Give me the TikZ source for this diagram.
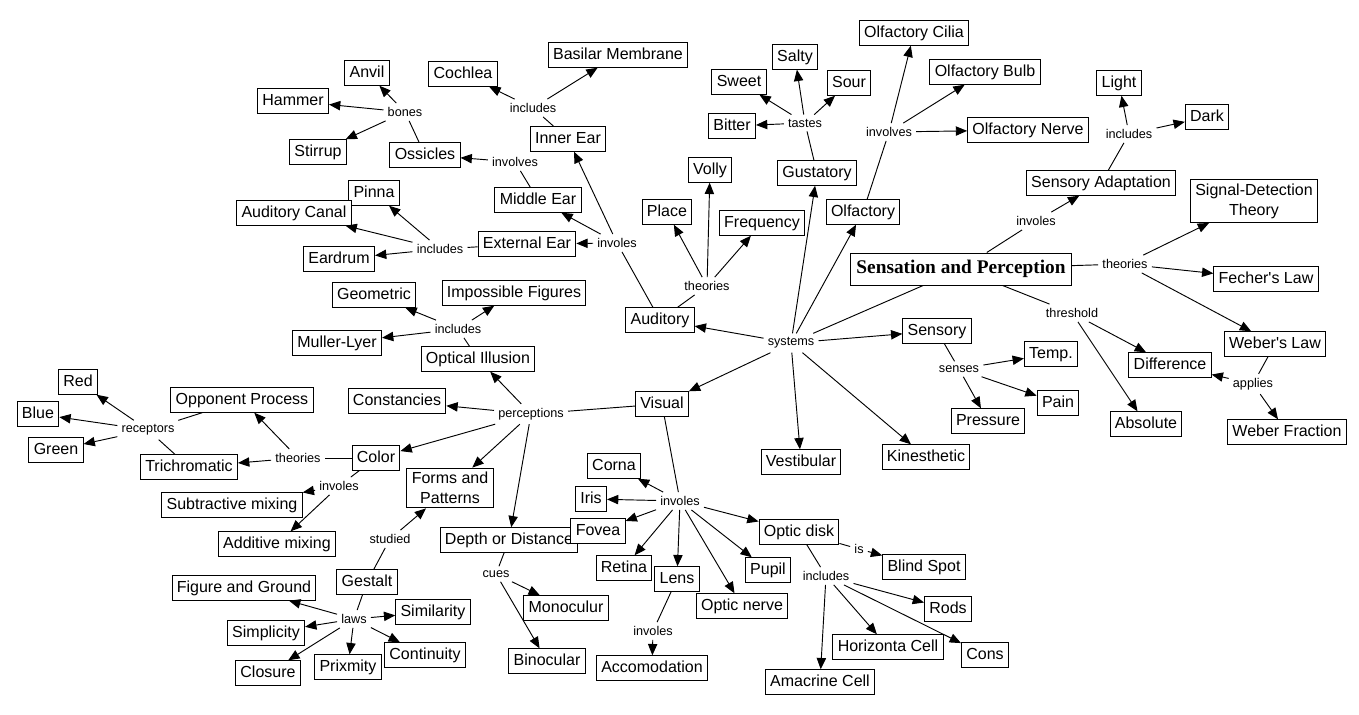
\documentclass[tikz,border=0pt]{standalone}
\usepackage{fontspec}
\setmainfont[Ligatures=TeXOff]{Liberation Sans}
\newfontfamily\titlefont{Liberation Serif}
\usetikzlibrary{arrows.meta}
\tikzset{
  box/.style={draw, fill=white, line width=0.75pt, font=\fontsize{12}{15}\selectfont,
    inner xsep=3.6pt, inner ysep=3.5pt, text height=8.8pt, text depth=2.5pt},
  box2/.style={draw, fill=white, line width=0.75pt, font=\fontsize{12}{15}\selectfont,
    inner xsep=3.6pt, inner ysep=3pt, align=center},
  lbl/.style={font=\fontsize{9.5}{10}\selectfont, inner sep=3pt},
  conn/.style={line width=0.7pt},
  arr/.style={line width=0.7pt, -{Triangle[length=8.5pt,width=7pt]}},
}
\begin{document}
\begin{tikzpicture}[x=0.75pt,y=-0.75pt]
\useasboundingbox (0,0) rectangle (1359,714);
% ---------- nodes: auditory ----------
\node[box] (anvil) at (367,73) {Anvil};
\node[box] (hammer) at (293,101) {Hammer};
\node[lbl] (bones) at (405,112) {bones};
\node[box] (stirrup) at (318,152) {Stirrup};
\node[box] (ossicles) at (425,155) {Ossicles};
\node[box] (cochlea) at (463,74) {Cochlea};
\node[box] (basilar) at (618,55) {Basilar Membrane};
\node[lbl] (incIE) at (533,108) {includes};
\node[box] (innerear) at (568,139) {Inner Ear};
\node[lbl] (invME) at (515,162) {involves};
\node[box] (middleear) at (538,200) {Middle Ear};
\node[box] (pinna) at (374,193) {Pinna};
\node[box] (audcanal) at (294,213) {Auditory Canal};
\node[lbl] (incEE) at (440,249) {includes};
\node[box] (eardrum) at (339,259) {Eardrum};
\node[box] (externalear) at (527,244) {External Ear};
\node[lbl] (invA) at (617,243) {involes};
\node[box] (auditory) at (660,320) {Auditory};
\node[lbl] (theoA) at (707,286) {theories};
\node[box] (place) at (667,212) {Place};
\node[box] (volly) at (710,170) {Volly};
\node[box] (frequency) at (762,223) {Frequency};
% ---------- gustatory / olfactory ----------
\node[box] (gustatory) at (817,173) {Gustatory};
\node[lbl] (tastes) at (805,123) {tastes};
\node[box] (bitter) at (732,126) {Bitter};
\node[box] (sweet) at (739,82) {Sweet};
\node[box] (salty) at (795,57) {Salty};
\node[box] (sour) at (849,83) {Sour};
\node[box] (cilia) at (914,33) {Olfactory Cilia};
\node[lbl] (invO) at (889,132) {involves};
\node[box] (olfactory) at (863,212) {Olfactory};
\node[box] (bulb) at (985,72) {Olfactory Bulb};
\node[box] (nerve) at (1028,130) {Olfactory Nerve};
% ---------- centre ----------
\node[lbl] (systems) at (791,343) {systems};
\node[draw, fill=white, line width=0.75pt, font=\titlefont\fontsize{14.5}{17}\selectfont\bfseries,
  inner xsep=4.5pt, minimum height=24pt] (sp) at (961,269) {Sensation and Perception};
\node[box] (light) at (1119,83) {Light};
\node[box] (dark) at (1207,117) {Dark};
\node[lbl] (incSA) at (1129,134) {includes};
\node[box] (sensad) at (1101,183) {Sensory Adaptation};
\node[box2] (sdt) at (1254,201) {Signal-Detection\\Theory};
\node[lbl] (invSA) at (1036,221) {involes};
\node[lbl] (theoSP) at (1125,264) {theories};
\node[box] (fecher) at (1266,279) {Fecher's Law};
\node[box] (weberlaw) at (1275,344) {Weber's Law};
\node[lbl] (threshold) at (1072,313) {threshold};
\node[box] (sensory) at (937,331) {Sensory};
\node[box] (temp) at (1051,354) {Temp.};
\node[lbl] (senses) at (959,369) {senses};
\node[box] (pain) at (1058,403) {Pain};
\node[box] (pressure) at (988,421) {Pressure};
\node[box] (vestibular) at (801,462) {Vestibular};
\node[box] (kinesthetic) at (926,457) {Kinesthetic};
\node[box] (difference) at (1170,365) {Difference};
\node[box] (absolute) at (1146,424) {Absolute};
\node[lbl] (applies) at (1253,384) {applies};
\node[box] (weberfrac) at (1287,432) {Weber Fraction};
% ---------- perception (left) ----------
\node[box] (geometric) at (374,295) {Geometric};
\node[lbl] (incOI) at (458,329) {includes};
\node[box] (impossible) at (514,293) {Impossible Figures};
\node[box] (muller) at (337,343) {Muller-Lyer};
\node[box] (optical) at (478,359) {Optical Illusion};
\node[box] (red) at (78,382) {Red};
\node[box] (blue) at (38,414) {Blue};
\node[box] (green) at (56,450) {Green};
\node[lbl] (receptors) at (148,430) {receptors};
\node[box] (opponent) at (242,400) {Opponent Process};
\node[box] (trichromatic) at (189,467) {Trichromatic};
\node[lbl] (theoC) at (298,458) {theories};
\node[box] (color) at (376,458) {Color};
\node[box] (constancies) at (397,401) {Constancies};
\node[lbl] (invC) at (339,486) {involes};
\node[box] (subtractive) at (232,505) {Subtractive mixing};
\node[box] (additive) at (277,544) {Additive mixing};
\node[box2] (forms) at (450,488) {Forms and\\Patterns};
\node[lbl] (studied) at (390,539) {studied};
\node[box] (gestalt) at (367,582) {Gestalt};
\node[box] (figure) at (244,588) {Figure and Ground};
\node[lbl] (laws) at (354,619) {laws};
\node[box] (similarity) at (433,612) {Similarity};
\node[box] (simplicity) at (266,633) {Simplicity};
\node[box] (continuity) at (425,655) {Continuity};
\node[box] (closure) at (268,673) {Closure};
\node[box] (prixmity) at (348,667) {Prixmity};
% ---------- visual ----------
\node[box] (visual) at (662,404) {Visual};
\node[lbl] (perceptions) at (531,414) {perceptions};
\node[box] (depth) at (509,540) {Depth or Distance};
\node[box] (fovea) at (598,531) {Fovea};
\node[lbl] (cues) at (496,574) {cues};
\node[box] (monoculur) at (566,608) {Monoculur};
\node[box] (binocular) at (547,661) {Binocular};
\node[box] (corna) at (614,466) {Corna};
\node[box] (iris) at (591,499) {Iris};
\node[lbl] (invV) at (680,501) {involes};
\node[box] (retina) at (624,568) {Retina};
\node[box] (lens) at (677,579) {Lens};
\node[lbl] (invL) at (653,631) {involes};
\node[box] (accomodation) at (652,668) {Accomodation};
\node[box] (opticnerve) at (742,606) {Optic nerve};
\node[box] (pupil) at (768,570) {Pupil};
\node[box] (opticdisk) at (799,532) {Optic disk};
\node[lbl] (is) at (859,549) {is};
\node[box] (blindspot) at (924,567) {Blind Spot};
\node[lbl] (incOD) at (826,576) {includes};
\node[box] (amacrine) at (820,682) {Amacrine Cell};
\node[box] (horizonta) at (888,647) {Horizonta Cell};
\node[box] (rods) at (948,609) {Rods};
\node[box] (cons) at (985,655) {Cons};
% ---------- connectors ----------
\draw[conn] (ossicles) -- (bones);
\draw[arr] (bones) -- (anvil);
\draw[arr] (bones) -- (hammer);
\draw[arr] (bones) -- (stirrup);
\draw[conn] (innerear) -- (incIE);
\draw[arr] (incIE) -- (cochlea);
\draw[arr] (incIE) -- (basilar);
\draw[conn] (middleear) -- (invME);
\draw[arr] (invME) -- (ossicles);
\draw[conn] (externalear) -- (incEE);
\draw[arr] (incEE) -- (pinna);
\draw[arr] (incEE) -- (audcanal);
\draw[arr] (incEE) -- (eardrum);
\draw[conn] (auditory) -- (invA);
\draw[arr] (invA) -- (innerear);
\draw[arr] (invA) -- (middleear);
\draw[arr] (invA) -- (externalear);
\draw[conn] (auditory) -- (theoA);
\draw[arr] (theoA) -- (place);
\draw[arr] (theoA) -- (volly);
\draw[arr] (theoA) -- (frequency);
\draw[conn] (gustatory) -- (tastes);
\draw[arr] (tastes) -- (bitter);
\draw[arr] (tastes) -- (sweet);
\draw[arr] (tastes) -- (salty);
\draw[arr] (tastes) -- (sour);
\draw[conn] (olfactory) -- (invO);
\draw[arr] (invO) -- (cilia);
\draw[arr] (invO) -- (bulb);
\draw[arr] (invO) -- (nerve);
\draw[conn] (sp) -- (systems);
\draw[arr] (systems) -- (auditory);
\draw[arr] (systems) -- (gustatory);
\draw[arr] (systems) -- (olfactory);
\draw[arr] (systems) -- (sensory);
\draw[arr] (systems) -- (visual);
\draw[arr] (systems) -- (vestibular);
\draw[arr] (systems) -- (kinesthetic);
\draw[conn] (sp) -- (invSA);
\draw[arr] (invSA) -- (sensad);
\draw[conn] (sensad) -- (incSA);
\draw[arr] (incSA) -- (light);
\draw[arr] (incSA) -- (dark);
\draw[conn] (sp) -- (theoSP);
\draw[arr] (theoSP) -- (sdt);
\draw[arr] (theoSP) -- (fecher);
\draw[arr] (theoSP) -- (weberlaw);
\draw[conn] (sp) -- (threshold);
\draw[arr] (threshold) -- (difference);
\draw[arr] (threshold) -- (absolute);
\draw[conn] (weberlaw) -- (applies);
\draw[arr] (applies) -- (difference);
\draw[arr] (applies) -- (weberfrac);
\draw[conn] (sensory) -- (senses);
\draw[arr] (senses) -- (temp);
\draw[arr] (senses) -- (pain);
\draw[arr] (senses) -- (pressure);
\draw[conn] (visual) -- (perceptions);
\draw[arr] (perceptions) -- (optical);
\draw[arr] (perceptions) -- (constancies);
\draw[arr] (perceptions) -- (color);
\draw[arr] (perceptions) -- (forms);
\draw[arr] (perceptions) -- (depth);
\draw[conn] (optical) -- (incOI);
\draw[arr] (incOI) -- (geometric);
\draw[arr] (incOI) -- (impossible);
\draw[arr] (incOI) -- (muller);
\draw[conn] (color) -- (theoC);
\draw[arr] (theoC) -- (opponent);
\draw[arr] (theoC) -- (trichromatic);
\draw[conn] (opponent) -- (receptors);
\draw[conn] (trichromatic) -- (receptors);
\draw[arr] (receptors) -- (red);
\draw[arr] (receptors) -- (blue);
\draw[arr] (receptors) -- (green);
\draw[conn] (color) -- (invC);
\draw[arr] (invC) -- (subtractive);
\draw[arr] (invC) -- (additive);
\draw[conn] (gestalt) -- (studied);
\draw[arr] (studied) -- (forms);
\draw[conn] (gestalt) -- (laws);
\draw[arr] (laws) -- (figure);
\draw[arr] (laws) -- (simplicity);
\draw[arr] (laws) -- (closure);
\draw[arr] (laws) -- (prixmity);
\draw[arr] (laws) -- (continuity);
\draw[arr] (laws) -- (similarity);
\draw[conn] (depth) -- (cues);
\draw[arr] (cues) -- (monoculur);
\draw[arr] (cues) -- (binocular);
\draw[conn] (visual) -- (invV);
\draw[arr] (invV) -- (corna);
\draw[arr] (invV) -- (iris);
\draw[arr] (invV) -- (fovea);
\draw[arr] (invV) -- (retina);
\draw[arr] (invV) -- (lens);
\draw[arr] (invV) -- (opticnerve);
\draw[arr] (invV) -- (pupil);
\draw[arr] (invV) -- (opticdisk);
\draw[conn] (lens) -- (invL);
\draw[arr] (invL) -- (accomodation);
\draw[conn] (opticdisk) -- (is);
\draw[arr] (is) -- (blindspot);
\draw[conn] (opticdisk) -- (incOD);
\draw[arr] (incOD) -- (amacrine);
\draw[arr] (incOD) -- (horizonta);
\draw[arr] (incOD) -- (rods);
\draw[arr] (incOD) -- (cons);
\end{tikzpicture}
\end{document}
